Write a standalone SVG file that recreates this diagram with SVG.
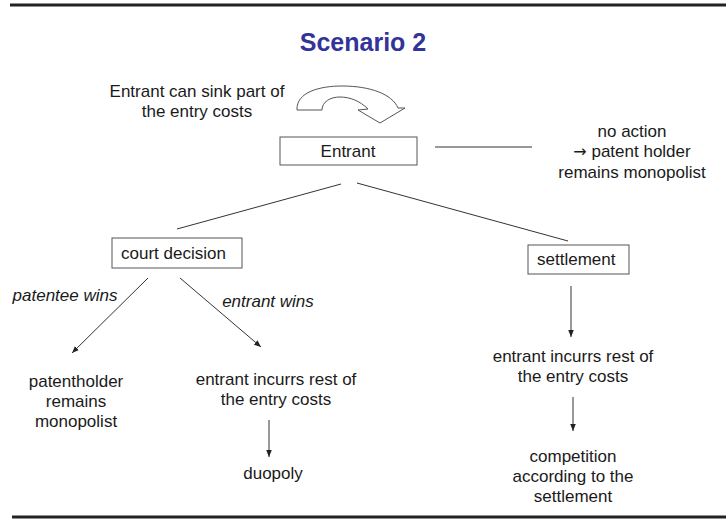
<svg xmlns="http://www.w3.org/2000/svg" width="726" height="521" viewBox="0 0 726 521">
<defs>
<marker id="ah" viewBox="0 0 10 10" refX="10" refY="5" markerWidth="7" markerHeight="7" markerUnits="userSpaceOnUse" orient="auto">
<path d="M0,1 L10,5 L0,9 Z" fill="#222"/>
</marker>
</defs>
<style>
text{font-family:"Liberation Sans",Arial,sans-serif;font-size:17px;fill:#1a1a1a}
.c{text-anchor:middle}
.i{font-style:italic}
.box{fill:#fff;stroke:#555;stroke-width:1}
.ln{stroke:#333;stroke-width:1;fill:none}
.ar{stroke:#333;stroke-width:1;fill:none;marker-end:url(#ah)}
.rule{stroke:#222;stroke-width:3}
</style>
<rect width="726" height="521" fill="#fff"/>
<line class="rule" x1="10" y1="5" x2="726" y2="5"/>
<line class="rule" x1="12" y1="517" x2="726" y2="517"/>
<text x="363" y="51" class="c" style="font-size:25px;font-weight:bold;fill:#333399">Scenario 2</text>

<g id="sink-note">
<text x="197" y="97" class="c">Entrant can sink part of</text>
<text x="197" y="117" class="c">the entry costs</text>
<path d="M297,110 C296,92 320,86 342,86 C370,86 392,94 398,108 L405,108 L380,123 L358,110 L368,109 C360,101 350,97 340,97 C330,97 322,102 322,110 Z" fill="#fff" stroke="#555" stroke-width="1"/>
</g>

<g id="entrant">
<rect class="box" x="280" y="137" width="137" height="28"/>
<text x="348" y="157" class="c">Entrant</text>
</g>

<g id="no-action">
<text x="632" y="137" class="c">no action</text>
<text x="632" y="157" class="c"><tspan style="font-family:'DejaVu Sans',sans-serif;font-size:16px">→</tspan> patent holder</text>
<text x="632" y="178" class="c">remains monopolist</text>
</g>

<g id="court-decision">
<rect class="box" x="112" y="238" width="130" height="30"/>
<text x="121" y="259">court decision</text>
</g>

<g id="settlement">
<rect class="box" x="528" y="245" width="101" height="29"/>
<text x="537" y="265">settlement</text>
</g>

<g id="patentholder">
<text x="76" y="387" class="c">patentholder</text>
<text x="76" y="407" class="c">remains</text>
<text x="76" y="427" class="c">monopolist</text>
</g>

<g id="entrant-incurs-1">
<text x="276" y="385" class="c">entrant incurrs rest of</text>
<text x="276" y="405" class="c">the entry costs</text>
</g>

<g id="duopoly">
<text x="273" y="479" class="c">duopoly</text>
</g>

<g id="entrant-incurs-2">
<text x="573" y="362" class="c">entrant incurrs rest of</text>
<text x="573" y="382" class="c">the entry costs</text>
</g>

<g id="competition">
<text x="573" y="462" class="c">competition</text>
<text x="573" y="482" class="c">according to the</text>
<text x="573" y="502" class="c">settlement</text>
</g>

<g id="connectors">
<line class="ln" x1="435" y1="147" x2="532" y2="147"/>
<line class="ln" x1="341" y1="184" x2="177" y2="229"/>
<line class="ln" x1="357" y1="183" x2="568" y2="241"/>
<line class="ar" x1="148" y1="278" x2="72" y2="353"/>
<line class="ar" x1="180" y1="278" x2="261" y2="347"/>
<line class="ar" x1="571" y1="286" x2="571" y2="337"/>
<line class="ar" x1="269" y1="420" x2="269" y2="457"/>
<line class="ar" x1="573" y1="397" x2="573" y2="431"/>
<text x="65" y="301" class="c i">patentee wins</text>
<text x="268" y="307" class="c i">entrant wins</text>
</g>
</svg>
